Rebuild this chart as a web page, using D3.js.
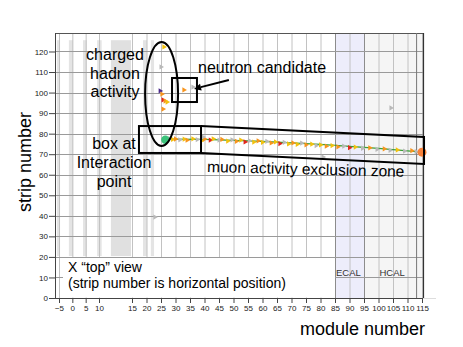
<!DOCTYPE html>
<html><head><meta charset="utf-8">
<script src="https://cdn.jsdelivr.net/npm/d3@7"></script>
<style>
body{margin:0;background:#fff;}
svg{display:block;font-family:"Liberation Sans",Arial,Helvetica,sans-serif;}
</style></head>
<body><svg id="c" width="463" height="347"></svg>
<script>
// ---------- data ----------
const xTicks = [-5,0,5,10,15,20,25,30,35,40,45,50,55,60,65,70,75,80,85,90,95,100,105,110,115];
const yTicks = [0,10,20,30,40,50,60,70,80,90,100,110,120];
// detector station bands (module ranges) in the upstream region
const bandStarts = [-5.8,-1.3,4.0,9.3,11.8,18.8,21.5];
const bandEnds   = [-4.6, 0.3,5.5,10.4,14.85,20.2,22.6];
// muon track hits: module, strip, colour class
const hitModule = [28,29,30,31.5,33,34,36,37.5,39,40,42,43,45,46,48,49.5,51,52.5,54,55.5,57,58.5,60,61.5,63,64.5,66,67.5,69,70.5,72,73.5,75,77,78.5,80,82,84,86,88,90,92,94.5,97,99.5,102,104,106.5,109,111.5,113];
const hitStrip  = [77.6,77.2,77.4,77.0,77.3,76.8,77.5,77.1,76.6,77.4,76.9,77.5,76.8,77.2,76.4,77.0,76.3,76.9,76.0,76.6,75.9,76.5,75.8,76.3,75.5,76.0,75.2,75.8,75.0,75.5,74.8,75.4,74.6,74.9,74.2,74.5,73.9,74.2,73.6,73.9,73.2,73.5,72.9,73.1,72.4,72.6,71.9,72.1,71.5,71.7,71.2];
const hitClass  = ["g","y","o","g","y","o","y","g","y","o","r","y","g","o","y","g","o","y","r","g","y","o","y","g","o","y","r","g","y","o","y","g","o","y","g","y","o","y","o","g","r","y","g","o","g","o","g","y","g","o","g"];
// other hits (hadron activity, neutron candidate, stray)
const otherModule = [24.7,25.3,25.7,26.4,27.1,25.7,25.0,26.0,32.9,36.0,22.9,104.3,80.9,39.5];
const otherStrip  = [100.8,99.3,96.4,95.9,95.4,92.0,112.5,122.2,101.3,102.7,39.4,92.5,68.6,78.4];
const otherClass  = ["p","o","r","o","y","o","g","y","o","g","g","g","g","g"];
// fitted track line
const fitModule = [26,40,60,80,100,115];
const fitStrip  = [77.3,77.2,76.2,74.8,72.8,71.0];
const vertexPoint = [26.5,77.0];
const endPoint = [115,71.0];
const colours = {o:"#f7941d", y:"#f2c10f", r:"#e2261c", g:"#b9b9b9", p:"#4b2a8c"};

// ---------- chart ----------
const svg = d3.select("#c");
const L = 55, R = 423, T = 33, B = 298;
const x = d3.scaleLinear().domain([-5,10,15,115]).range([59,99,132,422]);
const y = d3.scaleLinear().domain([0,129]).range([B,T]);
const font = '"Liberation Sans",Arial,Helvetica,sans-serif';

// HCAL region
svg.append("rect").attr("x",x(95)).attr("y",T).attr("width",R-x(95)).attr("height",B-T).attr("fill","#f5f5f5");
// ECAL region
svg.append("rect").attr("x",x(85)).attr("y",T).attr("width",x(95)-x(85)).attr("height",B-T).attr("fill","#ededfb");

// detector bands
svg.append("g").selectAll("rect").data(bandStarts).join("rect")
  .attr("x",(d)=>x(d)).attr("width",(d,i)=>x(bandEnds[i])-x(d))
  .attr("y",y(125.5)).attr("height",y(20.4)-y(125.5))
  .attr("fill",(d,i)=> i===4 ? "#e0e0e0" : "#e4e4e4");

// vertical grid
svg.append("g").selectAll("line").data(xTicks).join("line")
  .attr("x1",d=>x(d)+0.5).attr("x2",d=>x(d)+0.5).attr("y1",T).attr("y2",B)
  .attr("stroke",d=> (d===85||d===95)?"#8c8c8c":"#c2c2c2").attr("stroke-width",1);
// horizontal grid
svg.append("g").selectAll("line").data(yTicks.slice(1)).join("line")
  .attr("x1",L).attr("x2",R).attr("y1",d=>Math.round(y(d))+0.5).attr("y2",d=>Math.round(y(d))+0.5)
  .attr("stroke","#9a9a9a").attr("stroke-width",1);

// legend white box
svg.append("rect").attr("x",63).attr("y",258).attr("width",x(85)-63).attr("height",B-258-0.5).attr("fill","#fff");

// frame
svg.append("line").attr("x1",L).attr("x2",R).attr("y1",T+0.5).attr("y2",T+0.5).attr("stroke","#555");
svg.append("line").attr("x1",R+0.5).attr("x2",R+0.5).attr("y1",T).attr("y2",B).attr("stroke","#333").attr("stroke-width",1.2);
svg.append("line").attr("x1",x(114)-2.5).attr("x2",x(114)-2.5).attr("y1",T).attr("y2",B).attr("stroke","#777");
svg.append("line").attr("x1",R).attr("x2",436).attr("y1",B+0.5).attr("y2",B+0.5).attr("stroke","#ddd");

// axes
const xAxis = svg.append("g").attr("transform",`translate(0,${B})`)
  .call(d3.axisBottom(x).tickValues(xTicks).tickSize(5).tickSizeOuter(0).tickPadding(2));
xAxis.select(".domain").attr("d",`M${L},0.5H${R}`).attr("stroke","#444");
const yAxis = svg.append("g").attr("transform",`translate(${L},0)`)
  .call(d3.axisLeft(y).tickValues(yTicks).tickSize(6).tickSizeOuter(0).tickPadding(1));
yAxis.select(".domain").attr("d",`M0.5,${T}V${B}`).attr("stroke","#444");
svg.selectAll(".tick line").attr("stroke","#444");
svg.selectAll(".tick text").attr("font-size","8px").attr("font-family",font).attr("fill","#222");

// ECAL / HCAL labels
svg.append("text").attr("x",x(85)+1).attr("y",276).attr("font-size","9.5px").attr("fill","#333").text("ECAL");
svg.append("text").attr("x",x(100)+1).attr("y",276).attr("font-size","9.5px").attr("fill","#333").text("HCAL");

// fit line
svg.append("path").datum(fitModule.map((m,i)=>[m,fitStrip[i]]))
  .attr("d",d3.line().x(d=>x(d[0])).y(d=>y(d[1])))
  .attr("fill","none").attr("stroke","#3a9f35").attr("stroke-width",1.2);

// hits as small right-pointing triangles
const tri = d3.symbol().type(d3.symbolTriangle).size(12);
function drawHits(ms, ss, cs){
  svg.append("g").selectAll("path").data(ms).join("path")
    .attr("d",tri())
    .attr("transform",(d,i)=>`translate(${x(d)},${y(ss[i])}) rotate(90)`)
    .attr("fill",(d,i)=>colours[cs[i]]);
}
drawHits(hitModule, hitStrip, hitClass);
drawHits(otherModule, otherStrip, otherClass);

// vertex & end points
svg.append("circle").attr("cx",x(vertexPoint[0])).attr("cy",y(vertexPoint[1])).attr("r",4.2).attr("fill","#3cc27a");
svg.append("circle").attr("cx",x(endPoint[0])).attr("cy",y(endPoint[1])).attr("r",4.5).attr("fill","#f7813a");

// ---------- annotations ----------
const ann = svg.append("g").attr("fill","none").attr("stroke","#000").attr("stroke-width",2);
// charged hadron ellipse
ann.append("ellipse").attr("cx",x(25.2)).attr("cy",y(99.3)).attr("rx",16.5).attr("ry",52);
// neutron box
ann.append("rect").attr("x",x(28.8)).attr("y",y(107.1)).attr("width",x(37.4)-x(28.8)).attr("height",y(95.4)-y(107.1));
// interaction box
ann.append("rect").attr("x",x(17.4)).attr("y",y(83.7)).attr("width",x(38.8)-x(17.4)).attr("height",y(70.6)-y(83.7));
// muon exclusion zone
ann.append("path").attr("d",d3.line()([[x(38.8),y(83.7)],[x(115.7),y(78.4)],[x(115.7),y(65.2)],[x(38.8),y(70.6)]]));
// arrow
const a0=[x(48.4),y(106.1)], a1=[x(36.4),y(101.8)];
const ang=Math.atan2(a1[1]-a0[1],a1[0]-a0[0]);
const hl=7, hw=3.5;
const bx=a1[0]-hl*Math.cos(ang), by=a1[1]-hl*Math.sin(ang);
ann.append("line").attr("x1",a0[0]).attr("y1",a0[1]).attr("x2",bx).attr("y2",by);
svg.append("path").attr("fill","#000").attr("d",`M${a1[0]},${a1[1]}L${bx+hw*Math.sin(ang)},${by-hw*Math.cos(ang)}L${bx-hw*Math.sin(ang)},${by+hw*Math.cos(ang)}Z`);

// texts
function lines(arr, cx, y0, lh, size){
  arr.forEach((t,i)=>svg.append("text").attr("x",cx).attr("y",y0+i*lh).attr("text-anchor","middle")
    .attr("font-size",size).attr("fill","#000").text(t));
}
lines(["charged","hadron","activity"],115,60,18.5,"16px");
lines(["box at","Interaction","point"],114,149,19,"16px");
svg.append("text").attr("x",198).attr("y",73).attr("font-size","16px").text("neutron candidate");
svg.append("text").attr("x",207).attr("y",172).attr("font-size","15.5px")
  .attr("transform","rotate(1.4,207,172)").text("muon activity exclusion zone");
svg.append("text").attr("x",68).attr("y",272).attr("font-size","14px").text("X \u201ctop\u201d view");
svg.append("text").attr("x",68).attr("y",288).attr("font-size","14px").text("(strip number is horizontal position)");

// axis titles
svg.append("text").attr("x",425).attr("y",335).attr("text-anchor","end").attr("font-size","18px").text("module number");
svg.append("text").attr("transform","translate(31,162) rotate(-90)").attr("text-anchor","middle").attr("font-size","18px").text("strip number");
</script></body></html>
